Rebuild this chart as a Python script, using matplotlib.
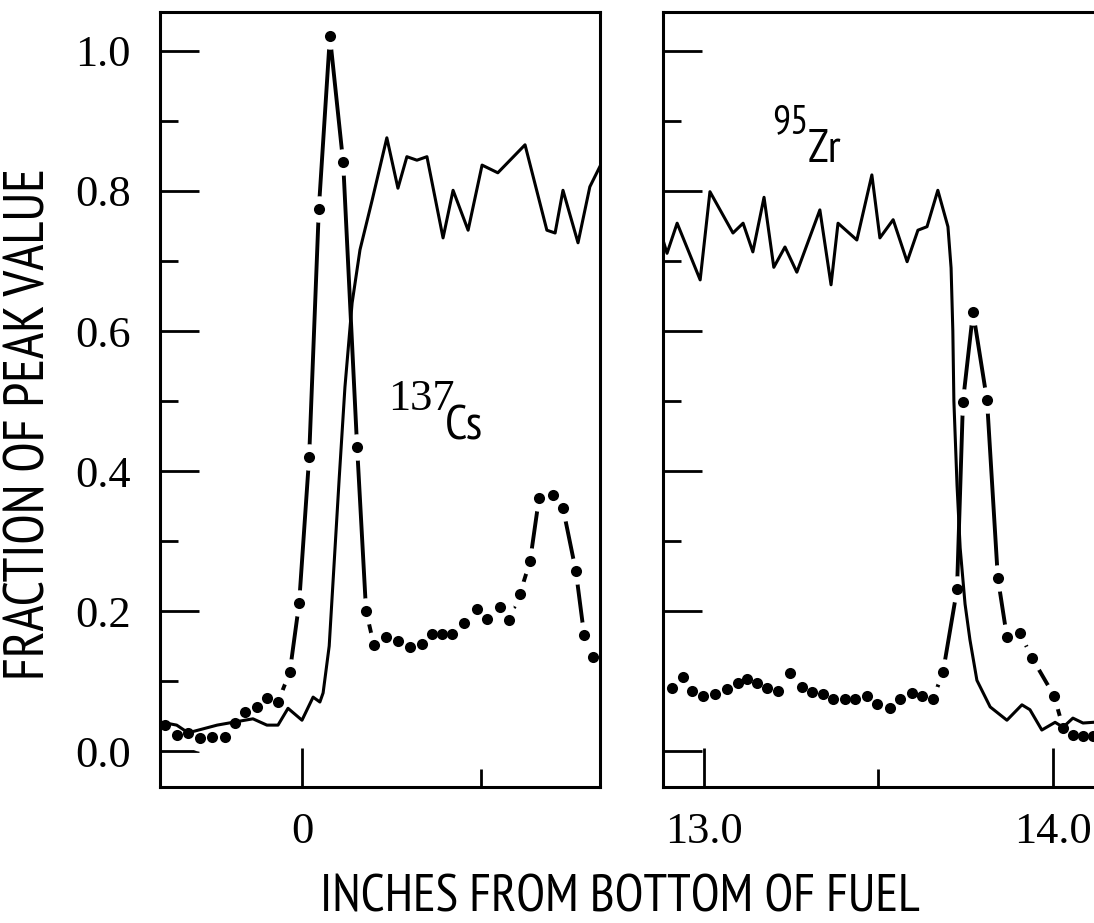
import numpy as np
import matplotlib.pyplot as plt
from matplotlib.ticker import MultipleLocator

# left panel (bottom of fuel) - 137Cs, dot-dash curve
cs_lo_x = [-0.383, -0.35, -0.318, -0.285, -0.25, -0.215, -0.187, -0.159, -0.126, -0.098,
           -0.067, -0.034, -0.008, 0.02, 0.047, 0.078, 0.115, 0.154, 0.179, 0.201,
           0.235, 0.268, 0.302, 0.335, 0.363, 0.391, 0.419, 0.453, 0.489, 0.517,
           0.553, 0.578, 0.609, 0.637, 0.662, 0.701, 0.729, 0.765, 0.788, 0.813]
cs_lo_y = [0.037, 0.023, 0.026, 0.019, 0.02, 0.02, 0.04, 0.056, 0.063, 0.076,
           0.07, 0.113, 0.211, 0.42, 0.774, 1.021, 0.841, 0.434, 0.2, 0.151,
           0.163, 0.157, 0.149, 0.153, 0.167, 0.167, 0.167, 0.183, 0.203, 0.188,
           0.206, 0.187, 0.225, 0.271, 0.361, 0.366, 0.347, 0.257, 0.166, 0.134]

# left panel - 95Zr, solid curve
zr_lo_x = [-0.397, -0.391, -0.35, -0.318, -0.237, -0.193, -0.137, -0.098, -0.067, -0.039,
           0.0, 0.031, 0.05, 0.059, 0.076, 0.09, 0.104, 0.12, 0.14, 0.162, 0.196,
           0.237, 0.268, 0.293, 0.321, 0.349, 0.394, 0.422, 0.464, 0.503, 0.547,
           0.623, 0.684, 0.707, 0.729, 0.771, 0.804, 0.838]
zr_lo_y = [0.04, 0.041, 0.037, 0.026, 0.037, 0.041, 0.046, 0.037, 0.037, 0.061,
           0.044, 0.077, 0.07, 0.083, 0.15, 0.27, 0.39, 0.52, 0.64, 0.716, 0.787,
           0.876, 0.804, 0.849, 0.844, 0.849, 0.733, 0.801, 0.744, 0.837, 0.826,
           0.866, 0.744, 0.74, 0.801, 0.726, 0.806, 0.841]

# right panel (top of fuel) - 137Cs
cs_hi_x = [12.908, 12.94, 12.966, 12.997, 13.032, 13.066, 13.097, 13.123, 13.152, 13.181,
           13.212, 13.246, 13.281, 13.309, 13.341, 13.37, 13.404, 13.433, 13.467, 13.496,
           13.533, 13.562, 13.596, 13.625, 13.656, 13.685, 13.725, 13.742, 13.771, 13.811,
           13.842, 13.868, 13.905, 13.94, 14.003, 14.029, 14.057, 14.086, 14.115]
cs_hi_y = [0.09, 0.106, 0.086, 0.079, 0.081, 0.089, 0.097, 0.103, 0.097, 0.09,
           0.086, 0.111, 0.091, 0.084, 0.081, 0.074, 0.074, 0.074, 0.079, 0.067,
           0.061, 0.074, 0.083, 0.079, 0.074, 0.113, 0.231, 0.499, 0.627, 0.501,
           0.247, 0.163, 0.169, 0.133, 0.079, 0.033, 0.023, 0.021, 0.021]

# right panel - 95Zr
zr_hi_x = [12.8825, 12.894, 12.923, 12.989, 13.017, 13.083, 13.112, 13.14, 13.172, 13.2,
           13.232, 13.266, 13.332, 13.364, 13.384, 13.438, 13.481, 13.504, 13.542, 13.582,
           13.613, 13.639, 13.67, 13.699, 13.708, 13.713, 13.716, 13.725, 13.734, 13.748,
           13.762, 13.782, 13.82, 13.868, 13.911, 13.934, 13.968, 14.006, 14.029, 14.057,
           14.086, 14.115]
zr_hi_y = [0.73, 0.711, 0.754, 0.673, 0.799, 0.74, 0.754, 0.713, 0.791, 0.691,
           0.72, 0.684, 0.773, 0.666, 0.754, 0.73, 0.823, 0.733, 0.759, 0.699,
           0.744, 0.749, 0.801, 0.749, 0.69, 0.6, 0.5, 0.38, 0.29, 0.21,
           0.159, 0.101, 0.063, 0.044, 0.066, 0.059, 0.03, 0.041, 0.034, 0.047,
           0.04, 0.041]

y_ticks = [0.0, 0.2, 0.4, 0.6, 0.8, 1.0]
y_ticklabels = ['0.0', '0.2', '0.4', '0.6', '0.8', '1.0']

SANS = ['PT Sans Narrow', 'Roboto Condensed', 'DejaVu Sans']
SERIF = ['Liberation Serif', 'DejaVu Serif']

fig = plt.figure(figsize=(10.94, 9.23), dpi=100)
ax1 = fig.add_axes([160 / 1094, 136 / 923, 440 / 1094, 775 / 923])
ax2 = fig.add_axes([663 / 1094, 136 / 923, 437 / 1094, 775 / 923])


def cs_curve(ax, x, y):
    # dot-dash look: line, white halo around points, then the dots
    ax.plot(x, y, color='black', lw=2.8, solid_capstyle='butt', zorder=2)
    ax.plot(x, y, ls='none', marker='o', ms=19, mfc='white', mec='none', zorder=2.1)
    ax.plot(x, y, ls='none', marker='o', ms=8, mfc='black', mec='none', zorder=2.2)


for ax in (ax1, ax2):
    ax.set_ylim(-0.0514, 1.0557)
    ax.set_yticks(y_ticks)
    ax.yaxis.set_minor_locator(MultipleLocator(0.1))
    ax.xaxis.set_minor_locator(MultipleLocator(0.5))
    ax.tick_params(which='major', direction='in', length=28, width=2, colors='black')
    ax.tick_params(which='minor', direction='in', length=13, width=2)
    ax.tick_params(axis='x', which='major', pad=18)
    ax.tick_params(axis='y', which='major', pad=21)
    for s in ax.spines.values():
        s.set_linewidth(2.2)

cs_curve(ax1, cs_lo_x, cs_lo_y)
ax1.plot(zr_lo_x, zr_lo_y, color='black', lw=2.2, zorder=2.3)
ax1.set_xlim(-0.3966, 0.8324)
ax1.set_xticks([0.0])
ax1.set_xticklabels(['0'], family=SERIF, fontsize=32)
ax1.set_yticklabels(y_ticklabels, family=SERIF, fontsize=32)

cs_curve(ax2, cs_hi_x, cs_hi_y)
ax2.plot(zr_hi_x, zr_hi_y, color='black', lw=2.2, zorder=2.3)
ax2.set_xlim(12.8825, 14.1347)
ax2.set_xticks([13.0, 14.0])
ax2.set_xticklabels(['13.0', '14.0'], family=SERIF, fontsize=32)
ax2.set_yticklabels([])

# isotope labels
ax1.text(0.518, 0.486, '137', transform=ax1.transAxes, family=SERIF, fontsize=32,
         ha='left', va='baseline')
ax1.text(0.648, 0.448, 'Cs', transform=ax1.transAxes, family=SANS, fontsize=35,
         ha='left', va='baseline')
ax2.text(0.249, 0.844, '95', transform=ax2.transAxes, family=SANS, fontsize=29,
         ha='left', va='baseline')
ax2.text(0.330, 0.806, 'Zr', transform=ax2.transAxes, family=SANS, fontsize=34,
         ha='left', va='baseline')

fig.text(30 / 1094, 1 - 424 / 923, 'FRACTION OF PEAK VALUE', rotation=90,
         family=SANS, fontsize=40, ha='center', va='center')
fig.text(620 / 1094, 1 - 912 / 923, 'INCHES FROM BOTTOM OF FUEL',
         family=SANS, fontsize=38, ha='center', va='baseline')

fig.savefig('out.png', dpi=100)
